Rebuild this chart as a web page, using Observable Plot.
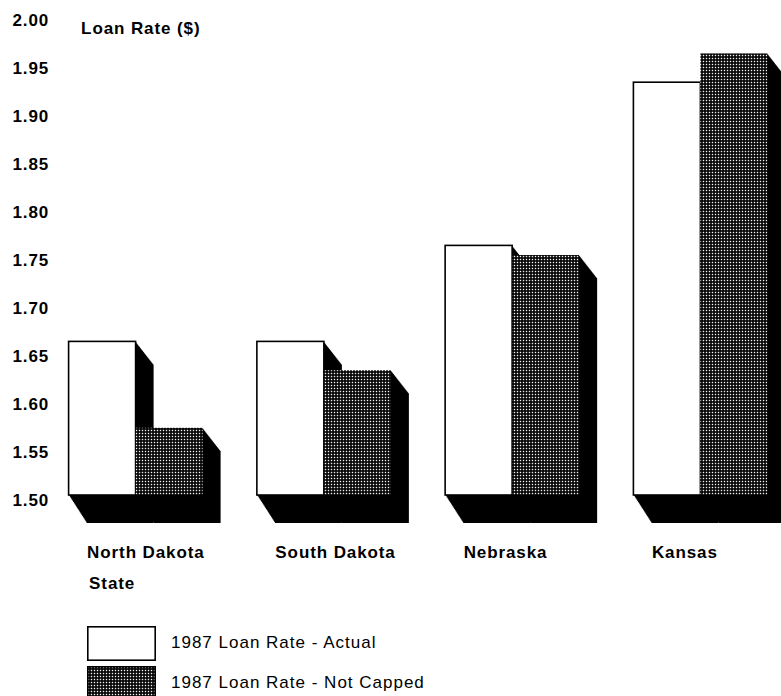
<!DOCTYPE html>
<html>
<head>
<meta charset="utf-8">
<script src="https://cdn.jsdelivr.net/npm/d3@7"></script>
<script src="https://cdn.jsdelivr.net/npm/@observablehq/plot@0.6"></script>
<style>
  html, body { margin: 0; padding: 0; background: #fff; }
  #chart svg { display: block; overflow: visible; }
  .legend { margin-left: 87px; margin-top: 23px; font-family: "Liberation Sans", Arial, sans-serif; font-size: 17px; letter-spacing: 1px; color: #000; }
  .legend .row { display: flex; align-items: center; height: 40px; }
</style>
</head>
<body>
<svg width="0" height="0" style="position:absolute">
  <defs>
    <pattern id="stip" width="3" height="3" patternUnits="userSpaceOnUse">
      <rect width="3" height="3" fill="#000"></rect>
      <rect x="0.8" y="0.8" width="1.4" height="1.4" fill="#f2f2f2"></rect>
    </pattern>
  </defs>
</svg>
<div id="chart"></div>
<div class="legend" id="legend"></div>
<script>
// ---- data ----
const states = ["North Dakota", "South Dakota", "Nebraska", "Kansas"];
const actual = [1.66, 1.66, 1.76, 1.93];
const notCapped = [1.57, 1.63, 1.75, 1.96];
const seriesNames = ["1987 Loan Rate - Actual", "1987 Loan Rate - Not Capped"];
const yTicks = [1.50, 1.55, 1.60, 1.65, 1.70, 1.75, 1.80, 1.85, 1.90, 1.95, 2.00];
const yTitle = "Loan Rate ($)";
const xTitle = "State";
const base = 1.50;

// ---- layout (bar units) ----
const G = 2.81;           // group step in bar widths
const fills = ["#fff", "url(#stip)"];
const table = [];
states.forEach((st, i) => {
  [actual, notCapped].forEach((arr, s) => {
    table.push({state: st, series: seriesNames[s], s, value: arr[i], x1: i * G + s, x2: i * G + s + 1});
  });
});

// 3-D extrusion (shadow) swept behind each bar
const DX = 18, DY = 23, EXTRA = 5, N = 24;
const shadows = [];
for (let k = 1; k <= N; k++) {
  shadows.push(Plot.rect(table, {
    x1: "x1", x2: "x2", y1: base, y2: "value", fill: "#000",
    dx: DX * k / N, dy: DY * k / N, insetBottom: -EXTRA * k / N
  }));
}

const chart = Plot.plot({
  width: 781,
  height: 600,
  marginLeft: 68.6,
  marginRight: 13.6,
  marginTop: 15,
  marginBottom: 105,
  x: {domain: [0, 3 * G + 2], axis: null},
  y: {domain: [1.5, 2.0], axis: null},
  style: {fontFamily: "'Liberation Sans', Arial, sans-serif", fontSize: "17px", fontWeight: "bold", letterSpacing: "0.9px", background: "#fff", color: "#000", overflow: "visible"},
  marks: [
    ...shadows,
    Plot.rect(table.filter(d => d.s === 0), {x1: "x1", x2: "x2", y1: base, y2: "value", fill: "#fff", stroke: "#000", strokeWidth: 1.6}),
    Plot.rect(table.filter(d => d.s === 1), {x1: "x1", x2: "x2", y1: base, y2: "value", fill: "url(#stip)"}),
    Plot.text(yTicks, {y: d => d, text: d => d.toFixed(2), frameAnchor: "left", dx: -56.6, dy: 5, textAnchor: "start", fill: "#000"}),
    Plot.text([yTitle], {frameAnchor: "top-left", dx: 12, dy: 6, textAnchor: "start", fill: "#000"}),
    Plot.text(states, {x: (d, i) => i * G, text: d => d, frameAnchor: "bottom", dy: 62, dx: 18, textAnchor: "start", fill: "#000"}),
    Plot.text([xTitle], {x: () => 0, frameAnchor: "bottom", dy: 93, dx: 20, textAnchor: "start", fill: "#000"})
  ]
});
document.getElementById("chart").appendChild(chart);

// ---- legend ----
const legend = d3.select("#legend");
seriesNames.forEach((name, s) => {
  const row = legend.append("div").attr("class", "row");
  const sw = row.append("svg").attr("width", 69).attr("height", 35).style("margin-right", "15px");
  sw.append("rect").attr("x", 0.8).attr("y", 0.8).attr("width", 67.4).attr("height", 33.4)
    .attr("fill", fills[s]).attr("stroke", "#000").attr("stroke-width", 1.6);
  row.append("span").text(name);
});
</script>
</body>
</html>
